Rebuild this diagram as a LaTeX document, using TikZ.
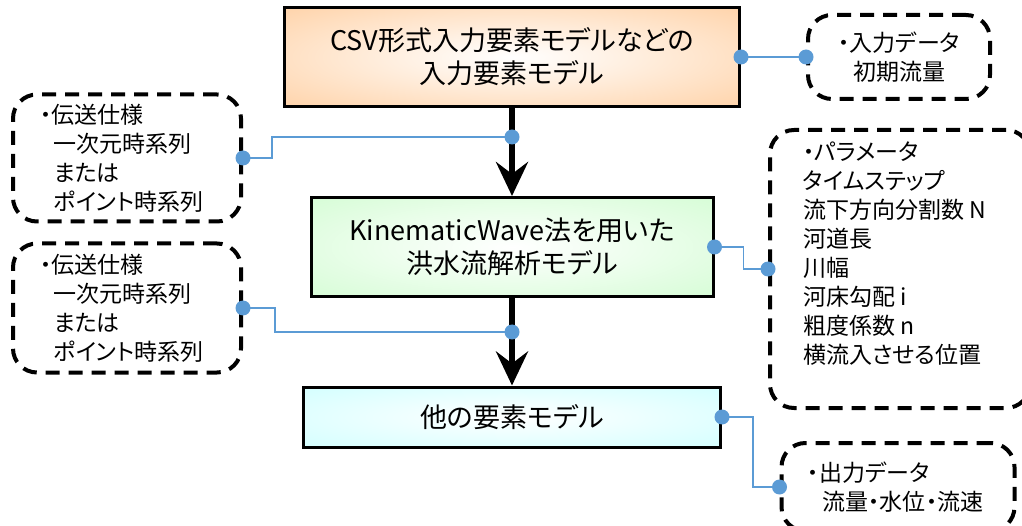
\documentclass[tikz,border=0pt]{standalone}
\usepackage{fontspec}
\setmainfont{Noto Sans CJK JP}[RawFeature=+palt]
\usepackage{tikz}
\usetikzlibrary{positioning,shapes,arrows.meta,calc}
\definecolor{peach}{HTML}{FFC894}
\definecolor{mint}{HTML}{CCFCCC}
\definecolor{aqua}{HTML}{C8FFFF}
\definecolor{linkblue}{HTML}{5B9BD5}
\pgfdeclareradialshading{peachglow}{\pgfpoint{0bp}{0bp}}{color(0bp)=(white); color(45bp)=(peach); color(50bp)=(peach)}
\pgfdeclareradialshading{mintglow}{\pgfpoint{0bp}{0bp}}{color(0bp)=(white); color(45bp)=(mint); color(50bp)=(mint)}
\pgfdeclareradialshading{aquaglow}{\pgfpoint{0bp}{0bp}}{color(0bp)=(white); color(45bp)=(aqua); color(50bp)=(aqua)}

\begin{document}
\begin{tikzpicture}[x=1pt, y=-1pt,
  model/.style={
    draw=black,
    line width=3pt,
    minimum height=99pt,
    inner sep=0pt,
    align=center,
    font=\fontsize{27}{33}\selectfont,
  },
  memo/.style={
    draw=black,
    line width=4pt,
    dash pattern=on 14pt off 9pt,
    rounded corners=24pt,
    inner sep=0pt,
    font=\fontsize{23}{29}\selectfont,
  },
  dot/.style={circle, fill=linkblue, minimum size=15pt, inner sep=0pt},
  link/.style={draw=linkblue, line width=1.5pt},
  flow/.style={line width=6pt, -{Stealth[length=34pt, width=32pt, inset=12pt]}}]
  \clip (0,0) rectangle (1022,526);
  % models
  \node[model, shading=peachglow, minimum width=455pt] (csv) at (512,57) {CSV形式入力要素モデルなどの\\入力要素モデル};
  \node[model, shading=mintglow, minimum width=402pt] (kw) at (512,247) {KinematicWave法を用いた\\洪水流解析モデル};
  \node[model, shading=aquaglow, minimum width=417pt, minimum height=60pt] (other) at (512,417) {他の要素モデル};
  % notes
  \node[memo, minimum width=182pt, minimum height=84pt, text width=150pt, align=center] (inp) at (899,57) {・入力データ\\初期流量};
  \node[memo, minimum width=228pt, minimum height=127pt, text width=174pt, align=left] (spec1) at (127,158) {・伝送仕様\\\hspace*{0.6em}一次元時系列\\\hspace*{0.6em}または\\\hspace*{0.6em}ポイント時系列};
  \node[memo, minimum width=228pt, minimum height=129pt, text width=174pt, align=left] (spec2) at (127,308) {・伝送仕様\\\hspace*{0.6em}一次元時系列\\\hspace*{0.6em}または\\\hspace*{0.6em}ポイント時系列};
  \node[memo, minimum width=260pt, minimum height=278pt] (par) at (900,269) {\parbox[c][254pt][t]{194pt}{・パラメータ\\タイムステップ\\流下方向分割数 N\\河道長\\川幅\\河床勾配 i\\粗度係数 n\\横流入させる位置}};
  \node[memo, minimum width=233pt, minimum height=88pt, text width=181pt, align=left] (out) at (898,487) {・出力データ\\\hspace*{0.65em}流量・水位・流速};
  % flow
  \coordinate (j1) at (512,137);
  \coordinate (j2) at (512,332);
  \draw[flow] (csv) -- (kw);
  \draw[flow] (kw) -- (other);
  % links
  \draw[link] (csv.east) -- (inp.west);
  \draw[link] (spec1.east) -- ++(29,0) |- (j1);
  \draw[link] (spec2.east) -- ++(32,0) |- (j2);
  \draw[link] (kw.east) -- ++(29,0) |- (par.west);
  \draw[link] (other.east) -- ++(31,0) |- (out.west);
  \foreach \p [count=\i] in {csv.east, inp.west, spec1.east, j1, spec2.east, j2, kw.east, par.west, other.east, out.west}
    \node[dot] (dot\i) at (\p) {};
\end{tikzpicture}
\end{document}
